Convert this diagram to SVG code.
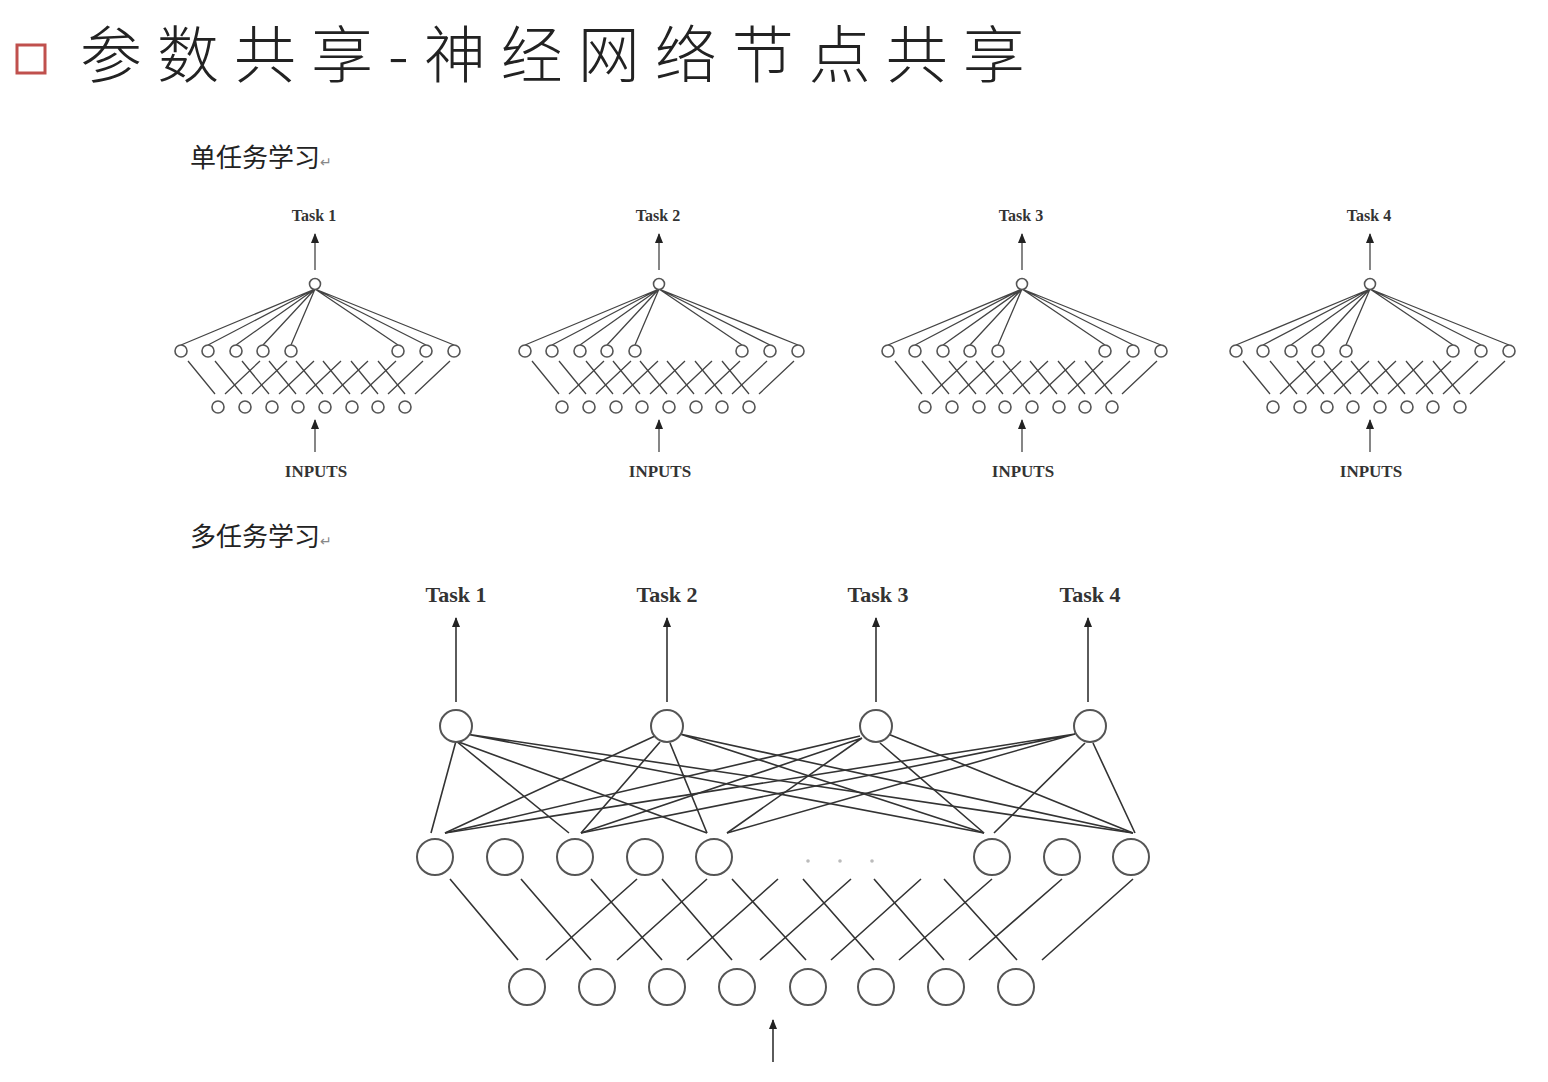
<svg xmlns="http://www.w3.org/2000/svg" xmlns:xlink="http://www.w3.org/1999/xlink" width="1548" height="1082" viewBox="0 0 1548 1082">
<style>
.l{stroke:#333;stroke-width:1.6;fill:none}
.ls{stroke:#444;stroke-width:1.3;fill:none}
.n{fill:#fff;stroke:#555;stroke-width:2}
.ns{fill:#fff;stroke:#555;stroke-width:1.6}
.t{font-family:"Liberation Serif",serif;fill:#333;text-anchor:middle}
.cj{font-family:"Noto Sans CJK SC",sans-serif;fill:#222}
</style>
<defs>
<marker id="ah" markerWidth="10" markerHeight="8" refX="9" refY="4" orient="auto" markerUnits="userSpaceOnUse" viewBox="0 0 10 8"><path d="M0,0 L10,4 L0,8 Z" fill="#222"/></marker>
<g id="small">
<line class="ls" x1="315" y1="270" x2="315" y2="234" marker-end="url(#ah)"/>
<g class="ls">
<path d="M315,289L181,345M315,289L208,345M315,289L236,345M315,289L263,345M315,289L291,345M315,289L398,345M315,289L426,345M315,289L454,345"/>
<path d="M188,361L215,394M215,361L242,394M242,361L269,394M269,361L296,394M296,361L323,394M323,361L350,394M351,361L378,394M378,361L405,394"/>
<path d="M260,361L225,394M287,361L252,394M314,361L279,394M341,361L306,394M368,361L333,394M396,361L361,394M423,361L388,394M450,361L415,394"/>
</g>
<circle class="ns" cx="315" cy="284" r="5.5"/>
<g class="ns"><circle cx="181" cy="351" r="6"/><circle cx="208" cy="351" r="6"/><circle cx="236" cy="351" r="6"/><circle cx="263" cy="351" r="6"/><circle cx="291" cy="351" r="6"/><circle cx="398" cy="351" r="6"/><circle cx="426" cy="351" r="6"/><circle cx="454" cy="351" r="6"/></g>
<g class="ns"><circle cx="218" cy="407" r="6"/><circle cx="245" cy="407" r="6"/><circle cx="272" cy="407" r="6"/><circle cx="298" cy="407" r="6"/><circle cx="325" cy="407" r="6"/><circle cx="352" cy="407" r="6"/><circle cx="378" cy="407" r="6"/><circle cx="405" cy="407" r="6"/></g>
<line class="ls" x1="315" y1="452" x2="315" y2="420" marker-end="url(#ah)"/>
<text class="t" x="316" y="477" font-size="17" font-weight="bold">INPUTS</text>
</g>
</defs>
<rect x="17" y="45" width="28" height="28" fill="none" stroke="#c0504d" stroke-width="3"/>
<text class="cj" x="80" y="78" font-size="62" letter-spacing="15" font-weight="300">参数共享-神经网络节点共享</text>
<text class="cj" x="190" y="167" font-size="26">单任务学习<tspan font-size="14" fill="#888">↵</tspan></text>
<text class="cj" x="190" y="546" font-size="26">多任务学习<tspan font-size="14" fill="#888">↵</tspan></text>

<g id="single1"><use xlink:href="#small"/><text class="t" x="314" y="221" font-size="16" font-weight="bold">Task 1</text></g>
<g id="single2" transform="translate(344,0)"><use xlink:href="#small"/><text class="t" x="314" y="221" font-size="16" font-weight="bold">Task 2</text></g>
<g id="single3" transform="translate(707,0)"><use xlink:href="#small"/><text class="t" x="314" y="221" font-size="16" font-weight="bold">Task 3</text></g>
<g id="single4" transform="translate(1055,0)"><use xlink:href="#small"/><text class="t" x="314" y="221" font-size="16" font-weight="bold">Task 4</text></g>

<g id="multi-connectors" class="l">
<line x1="456" y1="702" x2="456" y2="618" marker-end="url(#ah)"/>
<line x1="667" y1="702" x2="667" y2="618" marker-end="url(#ah)"/>
<line x1="876" y1="702" x2="876" y2="618" marker-end="url(#ah)"/>
<line x1="1088" y1="702" x2="1088" y2="618" marker-end="url(#ah)"/>
<line x1="773" y1="1062" x2="773" y2="1020" marker-end="url(#ah)"/>
<path d="M456,741L431,833M456,741L569,833M456,741L707,833M466,734L984,833M466,734L1133,833"/>
<path d="M655,736L445,833M660,742L581,833M670,743L707,833M680,734L984,833M680,734L1133,833"/>
<path d="M860,736L445,833M862,738L581,833M862,738L727,833M880,743L984,833M888,734L1133,833"/>
<path d="M1075,734L445,833M1075,734L581,833M1075,734L727,833M1085,743L994,833M1093,743L1135,833"/>
<path d="M450,879L518,960M521,879L591,960M591,879L662,960M662,879L732,960M732,879L806,960M803,879L874,960M874,879L944,960M944,879L1017,960"/>
<path d="M637,879L546,960M707,879L617,960M778,879L687,960M851,879L760,960M921,879L831,960M992,879L899,960M1062,879L969,960M1133,879L1042,960"/>
</g>
<g id="multi-tasks" class="t" font-size="22" font-weight="bold"><text x="456" y="602">Task 1</text><text x="667" y="602">Task 2</text><text x="878" y="602">Task 3</text><text x="1090" y="602">Task 4</text></g>
<g id="task-nodes" class="n"><circle cx="456" cy="726" r="16"/><circle cx="667" cy="726" r="16"/><circle cx="876" cy="726" r="16"/><circle cx="1090" cy="726" r="16"/></g>
<g id="hidden-nodes" class="n"><circle cx="435" cy="857" r="18"/><circle cx="505" cy="857" r="18"/><circle cx="575" cy="857" r="18"/><circle cx="645" cy="857" r="18"/><circle cx="714" cy="857" r="18"/><circle cx="992" cy="857" r="18"/><circle cx="1062" cy="857" r="18"/><circle cx="1131" cy="857" r="18"/></g>
<g fill="#bbb"><circle cx="808" cy="861" r="1.8"/><circle cx="840" cy="861" r="1.8"/><circle cx="872" cy="861" r="1.8"/></g>
<g id="input-nodes" class="n"><circle cx="527" cy="987" r="18"/><circle cx="597" cy="987" r="18"/><circle cx="667" cy="987" r="18"/><circle cx="737" cy="987" r="18"/><circle cx="808" cy="987" r="18"/><circle cx="876" cy="987" r="18"/><circle cx="946" cy="987" r="18"/><circle cx="1016" cy="987" r="18"/></g>
</svg>
